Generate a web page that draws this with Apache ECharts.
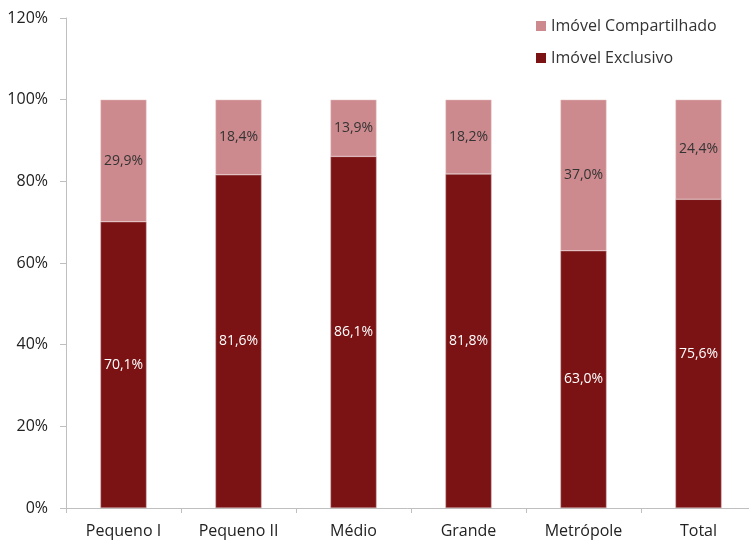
<!DOCTYPE html>
<html>
<head>
<meta charset="utf-8">
<script src="https://cdn.jsdelivr.net/npm/echarts@6/dist/echarts.min.js"></script>
<style>
  html, body { margin: 0; padding: 0; background: #fff; }
  #chart { width: 749px; height: 540px; }
</style>
</head>
<body>
<div id="chart"></div>
<script>
// Share of properties by municipality size (percent)
const categories = ['Pequeno I', 'Pequeno II', 'Médio', 'Grande', 'Metrópole', 'Total'];
const exclusivo = [70.1, 81.6, 86.1, 81.8, 63.0, 75.6];
const compartilhado = [29.9, 18.4, 13.9, 18.2, 37.0, 24.4];
const yTicks = [0, 20, 40, 60, 80, 100, 120];

const FONT = 'Open Sans';
const fmt = v => v.toFixed(1).replace('.', ',') + '%';

const chart = echarts.init(document.getElementById('chart'));
chart.setOption({
  animation: false,
  textStyle: { fontFamily: FONT },
  grid: {
    left: 66, width: 690, top: 18, bottom: 32,
    containLabel: false, outerBoundsMode: 'none'
  },
  legend: {
    orient: 'vertical',
    left: 531,
    top: 13,
    itemWidth: 10,
    itemHeight: 10,
    itemGap: 16,
    icon: 'rect',
    itemStyle: { borderWidth: 0 },
    textStyle: { fontFamily: FONT, fontSize: 16, color: '#333' },
    data: ['Imóvel Compartilhado', 'Imóvel Exclusivo']
  },
  xAxis: {
    type: 'category',
    data: categories,
    axisLine: { lineStyle: { color: '#BFBFBF', width: 1 } },
    axisTick: { show: true, length: 5, lineStyle: { color: '#BFBFBF' } },
    axisLabel: { fontFamily: FONT, fontSize: 16, color: '#222', margin: 15 }
  },
  yAxis: {
    type: 'value',
    min: yTicks[0],
    max: yTicks[yTicks.length - 1],
    interval: 20,
    axisLine: { show: true, lineStyle: { color: '#BFBFBF', width: 1 } },
    axisTick: { show: true, inside: false, length: 6, lineStyle: { color: '#BFBFBF' } },
    splitLine: { show: false },
    axisLabel: { fontFamily: FONT, fontSize: 16, color: '#222', margin: 18, formatter: v => v + '%' }
  },
  series: [
    {
      name: 'Imóvel Exclusivo',
      type: 'bar',
      stack: 'total',
      data: exclusivo,
      barWidth: 46,
      itemStyle: { color: '#7B1315', borderColor: '#C9A0A2', borderWidth: 0.5 },
      label: {
        show: true, position: 'inside', formatter: p => fmt(p.value),
        fontFamily: FONT, fontSize: 14, color: '#fff'
      }
    },
    {
      name: 'Imóvel Compartilhado',
      type: 'bar',
      stack: 'total',
      data: compartilhado,
      barWidth: 46,
      itemStyle: { color: '#CD8A8E', borderColor: '#E8C8CA', borderWidth: 0.5 },
      label: {
        show: true, position: 'inside', formatter: p => fmt(p.value),
        fontFamily: FONT, fontSize: 14, color: '#333'
      }
    }
  ]
});
</script>
</body>
</html>
